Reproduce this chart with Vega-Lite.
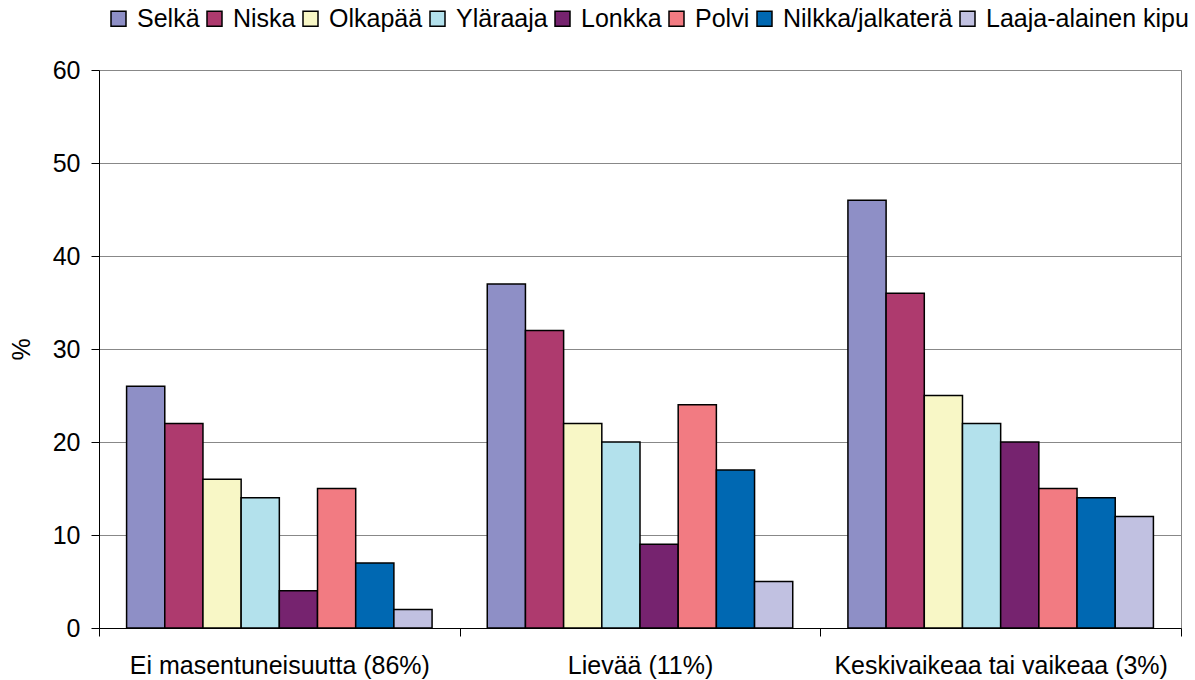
{
  "$schema": "https://vega.github.io/schema/vega-lite/v6.json",
  "width": 1082,
  "height": 558,
  "autosize": {"type": "none"},
  "padding": {"left": 99, "top": 70, "right": 14, "bottom": 52},
  "background": "white",
  "config": {
    "font": "Liberation Sans",
    "view": {"stroke": "#888888", "strokeWidth": 1}
  },
  "data": {
    "values": [
      {"g": "Ei masentuneisuutta (86%)", "s": "Selkä", "v": 26},
      {"g": "Ei masentuneisuutta (86%)", "s": "Niska", "v": 22},
      {"g": "Ei masentuneisuutta (86%)", "s": "Olkapää", "v": 16},
      {"g": "Ei masentuneisuutta (86%)", "s": "Yläraaja", "v": 14},
      {"g": "Ei masentuneisuutta (86%)", "s": "Lonkka", "v": 4},
      {"g": "Ei masentuneisuutta (86%)", "s": "Polvi", "v": 15},
      {"g": "Ei masentuneisuutta (86%)", "s": "Nilkka/jalkaterä", "v": 7},
      {"g": "Ei masentuneisuutta (86%)", "s": "Laaja-alainen kipu", "v": 2},
      {"g": "Lievää (11%)", "s": "Selkä", "v": 37},
      {"g": "Lievää (11%)", "s": "Niska", "v": 32},
      {"g": "Lievää (11%)", "s": "Olkapää", "v": 22},
      {"g": "Lievää (11%)", "s": "Yläraaja", "v": 20},
      {"g": "Lievää (11%)", "s": "Lonkka", "v": 9},
      {"g": "Lievää (11%)", "s": "Polvi", "v": 24},
      {"g": "Lievää (11%)", "s": "Nilkka/jalkaterä", "v": 17},
      {"g": "Lievää (11%)", "s": "Laaja-alainen kipu", "v": 5},
      {"g": "Keskivaikeaa tai vaikeaa (3%)", "s": "Selkä", "v": 46},
      {"g": "Keskivaikeaa tai vaikeaa (3%)", "s": "Niska", "v": 36},
      {"g": "Keskivaikeaa tai vaikeaa (3%)", "s": "Olkapää", "v": 25},
      {"g": "Keskivaikeaa tai vaikeaa (3%)", "s": "Yläraaja", "v": 22},
      {"g": "Keskivaikeaa tai vaikeaa (3%)", "s": "Lonkka", "v": 20},
      {"g": "Keskivaikeaa tai vaikeaa (3%)", "s": "Polvi", "v": 15},
      {"g": "Keskivaikeaa tai vaikeaa (3%)", "s": "Nilkka/jalkaterä", "v": 14},
      {"g": "Keskivaikeaa tai vaikeaa (3%)", "s": "Laaja-alainen kipu", "v": 12}
    ]
  },
  "mark": {"type": "bar", "stroke": "black", "strokeWidth": 1.5},
  "encoding": {
    "x": {
      "field": "g",
      "type": "nominal",
      "sort": null,
      "scale": {"paddingInner": 0, "paddingOuter": 0},
      "axis": {
        "title": null,
        "labelAngle": 0,
        "labelFontSize": 25,
        "labelLimit": 0,
        "labelColor": "black",
        "labelPadding": 17,
        "tickBand": "extent",
        "tickSize": 8,
        "tickColor": "black",
        "domainColor": "black",
        "domainWidth": 1,
        "grid": false
      }
    },
    "xOffset": {
      "field": "s",
      "type": "nominal",
      "sort": null,
      "scale": {"paddingInner": 0, "paddingOuter": 0.7225}
    },
    "y": {
      "field": "v",
      "type": "quantitative",
      "scale": {"domain": [0, 60], "nice": false},
      "axis": {
        "title": "%",
        "titleFontSize": 25,
        "titleFontWeight": "normal",
        "titleColor": "black",
        "titlePadding": 18,
        "values": [0, 10, 20, 30, 40, 50, 60],
        "labelFontSize": 25,
        "labelColor": "black",
        "labelPadding": 11,
        "tickSize": 8,
        "tickColor": "black",
        "domainColor": "black",
        "gridColor": "#888888",
        "gridOpacity": 1,
        "grid": true
      }
    },
    "color": {
      "field": "s",
      "type": "nominal",
      "sort": null,
      "scale": {
        "domain": ["Selkä", "Niska", "Olkapää", "Yläraaja", "Lonkka", "Polvi", "Nilkka/jalkaterä", "Laaja-alainen kipu"],
        "range": ["#8E8FC6", "#AE3A6E", "#F8F7C6", "#B3E1EC", "#76236F", "#F27B82", "#0068B2", "#C1C1E1"]
      },
      "legend": {
        "title": null,
        "orient": "none",
        "direction": "horizontal",
        "legendX": 7,
        "legendY": -64,
        "symbolType": "square",
        "symbolSize": 225,
        "symbolStrokeColor": "black",
        "symbolStrokeWidth": 1.5,
        "labelFontSize": 25,
        "labelLimit": 0,
        "labelColor": "black",
        "labelOffset": 6,
        "columnPadding": 2,
        "symbolOpacity": 1
      }
    }
  }
}
